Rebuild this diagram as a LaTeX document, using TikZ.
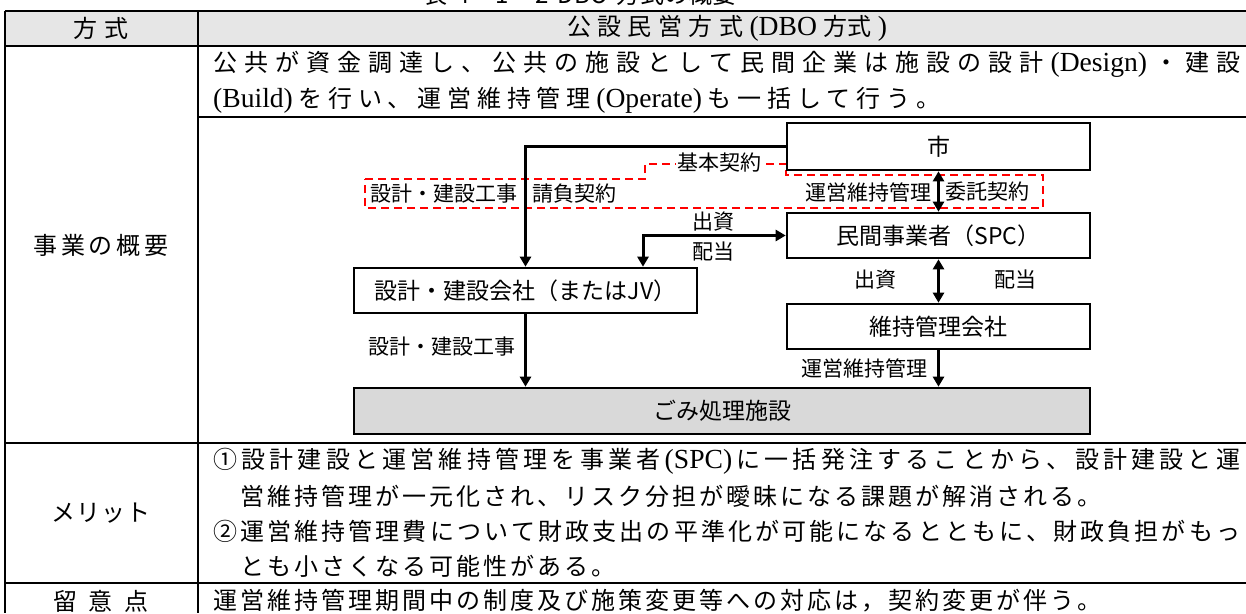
\documentclass[tikz,border=0pt]{standalone}
\usepackage{fontspec}
\newfontfamily\jp{Noto Sans CJK JP}
\newfontfamily\lat{Liberation Serif}[Scale=1.15]
\usetikzlibrary{arrows.meta,calc}
\def\sprendmark{\sprend}
\def\spr#1{\def\sprtmp{#1}\ifx\sprtmp\sprendmark\else{#1}\hfill\expandafter\spr\fi}
\newcommand\jline[2]{\hbox to #1{\spr #2\sprend\unskip}}
\definecolor{hdrgray}{RGB}{230,230,230}
\definecolor{boxgray}{RGB}{217,217,217}
\definecolor{dashred}{RGB}{255,0,0}
\tikzset{
  body/.style={font=\jp\fontsize{24}{28}\selectfont, inner sep=0pt},
  tline/.style={line width=2.4pt},
  vline/.style={line width=1.2pt},
  box/.style={draw, line width=2.6pt, inner sep=0pt, font=\jp\fontsize{23}{27}\selectfont},
  elabel/.style={font=\jp\fontsize{21}{25}\selectfont, inner sep=0pt},
  conn/.style={line width=3pt},
  arr/.style={conn, -{Triangle[length=10pt,width=11pt]}},
  darr/.style={conn, {Triangle[length=10pt,width=11pt]}-{Triangle[length=10pt,width=11pt]}},
  contract/.style={draw=dashred, line width=2pt, dash pattern=on 8pt off 5pt}
}
\begin{document}
\begin{tikzpicture}[x=1pt,y=-1pt]
\useasboundingbox (0,0) rectangle (1246,613);
% title (clipped at top)
\node[body, anchor=base] (title) at (580,4) {\hbox to 314pt{表\hfill 4\hfill -\hfill 1\hfill -\hfill 2\hfill DBO\hfill 方式の概要}};
% header fill
\fill[hdrgray] (5,11) rectangle (1246,46);
% table lines
\draw[tline] (5,11) -- (1246,11);
\draw[tline] (5,46) -- (1246,46);
\draw[tline] (198,117) -- (1246,117);
\draw[tline] (5,443) -- (1246,443);
\draw[tline] (5,583) -- (1246,583);
\draw[vline] (5,11) -- (5,613);
\draw[vline] (198,11) -- (198,613);
% header texts
\node[body] (h1) at (101,28.5) {\jline{56pt}{方式}};
\node[body] (h2) at (727,28.5) {\jline{320pt}{公設民営方式{\lat (DBO}{方式}{\lat )}}};
% left column
\node[body] (l1) at (101,245) {\jline{135pt}{事業の概要}};
\node[body] (l2) at (101,513) {\jline{100pt}{メリット}};
\node[body] (l3) at (101,601) {\jline{95pt}{留意点}};
% row 1 text
\node[body, anchor=west] (t1) at (213,64) {\jline{1027pt}{公共が資金調達し、公共の施設として民間企業は施設の設計{\lat (Design)}・建設}};
\node[body, anchor=west] (t2) at (213,100) {\jline{727pt}{{\lat (Build)}を行い、運営維持管理{\lat (Operate)}も一括して行う。}};
% merit text
\node[body, anchor=west] (m1) at (213,461) {\jline{1027pt}{①設計建設と運営維持管理を事業者{\lat (SPC)}に一括発注することから、設計建設と運}};
\node[body, anchor=west] (m2) at (240,496) {\jline{861pt}{営維持管理が一元化され、リスク分担が曖昧になる課題が解消される。}};
\node[body, anchor=west] (m3) at (213,531) {\jline{1027pt}{②運営維持管理費について財政支出の平準化が可能になるとともに、財政負担がもっ}};
\node[body, anchor=west] (m4) at (240,566) {\jline{375pt}{とも小さくなる可能性がある。}};
\node[body, anchor=west] (n1) at (213,601) {\jline{888pt}{運営維持管理期間中の制度及び施策変更等への対応は，契約変更が伴う。}};
% contract region (dashed)
\draw[contract] (365,179) -- (645,179) -- (645,164) -- (786,164) -- (786,175) -- (1043,175) -- (1043,208) -- (365,208) -- cycle;
% boxes
\node[box, minimum width=303pt, minimum height=47pt] (ichi) at (938.5,146.5) {市};
\node[box, minimum width=303pt, minimum height=45pt] (spc) at (938.5,235.5) {民間事業者（SPC）};
\node[box, minimum width=303pt, minimum height=45pt] (maint) at (938.5,326.5) {維持管理会社};
\node[box, minimum width=343pt, minimum height=45pt] (design) at (525.5,290.5) {設計・建設会社（またはJV）};
\node[box, fill=boxgray, minimum width=736pt, minimum height=46pt] (gomi) at (722,411) {ごみ処理施設};
\coordinate (xfund) at (643,0);
% connectors
\draw[arr] (ichi.west) -| (design.north);
\draw[darr] (spc.west) -| (design.north -| xfund);
\draw[darr] (ichi.south) -- (spc.north);
\draw[darr] (spc.south) -- (maint.north);
\draw[arr] (maint.south) -- (gomi.north -| maint.south);
\draw[arr] (design.south) -- (gomi.north -| design.south);
% labels
\node[elabel, fill=white, inner sep=1pt] (kk) at (719,163) {基本契約};
\node[elabel, anchor=east] (c1) at (518,194) {設計・建設工事};
\node[elabel, anchor=west] (c2) at (532,194) {請負契約};
\node[elabel, anchor=east] (c3) at (932,192) {運営維持管理};
\node[elabel, anchor=west] (c4) at (945,192) {委託契約};
\node[elabel] (f1) at (713,222) {出資};
\node[elabel] (f2) at (713,252) {配当};
\node[elabel] (f3) at (875,280) {出資};
\node[elabel] (f4) at (1015,280) {配当};
\node[elabel, anchor=east] (w1) at (928,368) {運営維持管理};
\node[elabel, anchor=east] (w2) at (516,347) {設計・建設工事};
\end{tikzpicture}
\end{document}
